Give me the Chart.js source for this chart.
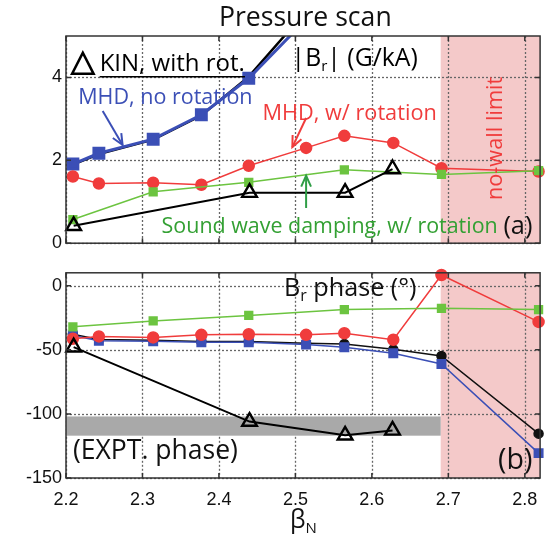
<!DOCTYPE html>
<html><head><meta charset="utf-8">
<script src="https://cdn.jsdelivr.net/npm/chart.js@4.4.1/dist/chart.umd.min.js"></script>
<style>
html,body{margin:0;padding:0;background:#fff;}
#wrap{position:relative;width:551px;height:540px;overflow:hidden;}
canvas{position:absolute;left:0;}
</style></head><body>
<div id="wrap">
<canvas id="c1" width="551" height="258" style="top:0;width:551px;height:258px"></canvas>
<canvas id="c2" width="551" height="282" style="top:258px;width:551px;height:282px"></canvas>
</div>
<script>
// ---------------- DATA ----------------
const xTicks = [2.2, 2.3, 2.4, 2.5, 2.6, 2.7, 2.8];
const ampTicks = [0, 2, 4];
const phaseTicks = [0, -50, -100, -150];

// MHD series (blue, red, black) share the same beta_N points
const betaMHD = [2.209, 2.243, 2.314, 2.377, 2.439, 2.514, 2.564, 2.628, 2.691, 2.818];
const ampMHDnoRot   = [1.91, 2.17, 2.51, 3.10, 3.98, 5.4, 7.0, 9.5, 14, 30];
const phaseMHDnoRot = [-38.9, -42.9, -43.4, -44.2, -44.2, -46.0, -48.0, -52.8, -61.1, -130.6];
const ampMHDrot     = [1.61, 1.44, 1.46, 1.41, 1.87, 2.30, 2.59, 2.42, 1.81, 1.73];
const phaseMHDrot   = [-41.4, -39.6, -40.4, -38.4, -37.9, -38.4, -37.1, -42.2, 8.3, -28.3];
const ampBlack      = [1.90, 2.15, 2.50, 3.08, 4.02, 5.6, 7.5, 10, 15, 30];
const phaseBlack    = [-38.0, -42.0, -42.5, -43.5, -43.5, -45.0, -45.5, -49.7, -54.8, -115.4];

const betaSound  = [2.209, 2.314, 2.439, 2.564, 2.691, 2.818];
const ampSound   = [0.57, 1.24, 1.47, 1.77, 1.66, 1.75];
const phaseSound = [-32.1, -27.5, -23.2, -18.7, -17.7, -18.7];

const betaKIN  = [2.21, 2.44, 2.565, 2.627];
const ampKIN   = [0.42, 1.22, 1.22, 1.79];
const phaseKIN = [-48.0, -106.0, -116.7, -112.9];

const noWallStart = 2.69;
const exptBand = [-117, -102];
const exptBandEnd = 2.69;

// ---------------- STYLE ----------------
const BLUE = '#3b4fb6', RED = '#f03c3c', GREEN = '#6cc440', GREENTXT = '#33a033', BLACK = '#000';
const LBL = "'Open Sans', Lato, sans-serif";
Chart.defaults.font.family = "'Liberation Sans', Arial, sans-serif";
Chart.defaults.color = '#111';

const pts = (xs, ys) => xs.map((b, i) => ({x: b, y: ys[i]}));

function segFont(s, size) { return `${s.sub ? Math.round(size * 0.62) : size}px ${LBL}`; }
function measureSegs(ctx, segs, size) {
  let w = 0;
  for (const s of segs) { ctx.font = segFont(s, size); w += ctx.measureText(s.t).width; }
  return w;
}
function drawSegs(ctx, x, y, segs, size, color) {
  let cx = x;
  ctx.fillStyle = color;
  ctx.textBaseline = 'middle';
  ctx.textAlign = 'left';
  for (const s of segs) {
    ctx.font = segFont(s, size);
    ctx.fillText(s.t, cx, y + (s.sub ? size * 0.32 : 0));
    cx += ctx.measureText(s.t).width;
  }
  return cx - x;
}
function fitSegs(ctx, xL, xR, y, segs, color) {
  const size = 20 * (xR - xL) / measureSegs(ctx, segs, 20);
  drawSegs(ctx, xL, y, segs, size, color);
  return size;
}
function arrow(ctx, x1, y1, x2, y2, color) {
  ctx.strokeStyle = color; ctx.lineWidth = 2;
  ctx.beginPath(); ctx.moveTo(x1, y1); ctx.lineTo(x2, y2); ctx.stroke();
  const a = Math.atan2(y2 - y1, x2 - x1), L = 12, W = 0.42;
  ctx.beginPath();
  ctx.moveTo(x2 - L * Math.cos(a - W), y2 - L * Math.sin(a - W));
  ctx.lineTo(x2, y2);
  ctx.lineTo(x2 - L * Math.cos(a + W), y2 - L * Math.sin(a + W));
  ctx.stroke();
}

function overlay(cfg) {
  return {
    id: 'ov_' + cfg.name,
    beforeDraw(chart) {
      const {ctx, chartArea: a, scales: {x}} = chart;
      ctx.save();
      ctx.fillStyle = '#f4c9c9';
      const px = x.getPixelForValue(noWallStart);
      ctx.fillRect(px, a.top, a.right - px, a.bottom - a.top);
      ctx.restore();
    },
    beforeDatasetsDraw(chart) {
      const {ctx, chartArea: a, scales: {x, y}} = chart;
      ctx.save();
      // dotted grid
      ctx.strokeStyle = '#666'; ctx.lineWidth = 1.3; ctx.setLineDash([2, 2]);
      xTicks.forEach(v => {
        const p = Math.round(x.getPixelForValue(v)) + 0.5;
        ctx.beginPath(); ctx.moveTo(p, a.top); ctx.lineTo(p, a.bottom); ctx.stroke();
      });
      cfg.yTicks.forEach(v => {
        const p = Math.round(y.getPixelForValue(v)) + 0.5;
        ctx.beginPath(); ctx.moveTo(a.left, p); ctx.lineTo(a.right, p); ctx.stroke();
      });
      ctx.setLineDash([]);
      if (cfg.band) {
        ctx.fillStyle = '#a9a9a9';
        const x1 = x.getPixelForValue(2.2), x2 = x.getPixelForValue(exptBandEnd);
        const y1 = y.getPixelForValue(exptBand[1]), y2 = y.getPixelForValue(exptBand[0]);
        ctx.fillRect(x1, y1, x2 - x1, y2 - y1);
      }
      ctx.restore();
    },
    afterDraw(chart) {
      const {ctx, chartArea: a, scales: {x, y}} = chart;
      ctx.save();
      ctx.strokeStyle = '#333'; ctx.lineWidth = 1.5;
      ctx.strokeRect(a.left, a.top, a.right - a.left, a.bottom - a.top);
      ctx.beginPath();
      xTicks.forEach(v => {
        const p = x.getPixelForValue(v);
        ctx.moveTo(p, a.bottom); ctx.lineTo(p, a.bottom - 5);
        ctx.moveTo(p, a.top); ctx.lineTo(p, a.top + 5);
      });
      cfg.yTicks.forEach(v => {
        const p = y.getPixelForValue(v);
        ctx.moveTo(a.left, p); ctx.lineTo(a.left + 5, p);
        ctx.moveTo(a.right, p); ctx.lineTo(a.right - 5, p);
      });
      ctx.stroke();
      const X = v => x.getPixelForValue(v), Y = v => y.getPixelForValue(v);
      cfg.draw(ctx, X, Y, a);
      ctx.restore();
    }
  };
}

function makeChart(id, name, datasets, yMin, yMax, yTicks, showX, pad, band, draw) {
  return new Chart(document.getElementById(id), {
    type: 'line',
    data: {datasets},
    options: {
      responsive: false, animation: false, events: [],
      layout: {padding: pad},
      plugins: {legend: {display: false}, tooltip: {enabled: false}, title: {display: false}},
      elements: {line: {tension: 0}},
      scales: {
        x: {
          type: 'linear', min: 2.2, max: 2.82,
          afterBuildTicks: s => { s.ticks = xTicks.map(v => ({value: v})); },
          ticks: {display: showX, font: {size: 18}, color: '#111', padding: 11, maxRotation: 0, autoSkip: false,
                  callback: v => v.toFixed(1)},
          grid: {display: false, drawTicks: false},
          border: {display: false},
          afterFit: s => { s.height = showX ? 62 : 0; }
        },
        y: {
          type: 'linear', min: yMin, max: yMax,
          afterBuildTicks: s => { s.ticks = yTicks.map(v => ({value: v})); },
          ticks: {font: {size: 18}, color: '#111', padding: 4},
          grid: {display: false, drawTicks: false},
          border: {display: false},
          afterFit: s => { s.width = 66; }
        }
      }
    },
    plugins: [overlay({name, yTicks, band, draw})]
  });
}

const edgeClip = {left: 12, right: 12, top: 12, bottom: 12};
const topClip = {left: 12, right: 12, top: 0, bottom: 12};

// ---------------- TOP PANEL ----------------
const topSets = [
  {data: pts(betaKIN, ampKIN), borderColor: BLACK, borderWidth: 2, pointStyle: 'triangle', pointRadius: 8.5,
   pointBorderWidth: 2.4, pointBackgroundColor: 'rgba(0,0,0,0)', pointBorderColor: BLACK, clip: edgeClip},
  {data: pts(betaSound, ampSound), borderColor: GREEN, borderWidth: 1.5, pointStyle: 'rect', pointRadius: 5.5,
   pointBackgroundColor: GREEN, pointBorderColor: GREEN, clip: edgeClip},
  {data: pts(betaMHD, ampMHDrot), borderColor: RED, borderWidth: 1.5, pointStyle: 'circle', pointRadius: 5.5,
   pointBackgroundColor: RED, pointBorderColor: RED, clip: edgeClip},
  {data: pts(betaMHD, ampMHDnoRot), borderColor: BLUE, borderWidth: 3, pointStyle: 'rect', pointRadius: 7,
   pointBackgroundColor: BLUE, pointBorderColor: BLUE, clip: topClip},
  {data: pts(betaMHD, ampBlack), borderColor: BLACK, borderWidth: 2.5, pointRadius: 3,
   pointBackgroundColor: BLACK, clip: topClip}
];
makeChart('c1', 'top', topSets, 0, 5, ampTicks, false, {left: 0, right: 7, top: 36, bottom: 9}, false,
  (ctx, X, Y, a) => {
    fitSegs(ctx, X(2.400), X(2.626), 18, [{t: 'Pressure scan'}], '#111');
    // KIN legend: hollow triangle + underlined text
    ctx.lineWidth = 2.6; ctx.strokeStyle = '#000';
    const tx = X(2.208), tx2 = X(2.236), ty = Y(4.33);
    ctx.beginPath(); ctx.moveTo(tx, ty + 10); ctx.lineTo((tx + tx2) / 2, ty - 11); ctx.lineTo(tx2, ty + 10); ctx.closePath(); ctx.stroke();
    const xl = X(2.244), xr = X(2.434);
    fitSegs(ctx, xl, xr, ty, [{t: 'KIN, with rot.'}], '#000');
    ctx.lineWidth = 1.3; ctx.beginPath(); ctx.moveTo(xl, ty + 13); ctx.lineTo(xr, ty + 13); ctx.stroke();
    fitSegs(ctx, X(2.495), X(2.660), Y(4.45), [{t: '|B'}, {t: 'r', sub: true}, {t: '| (G/kA)'}], '#000');
    fitSegs(ctx, X(2.216), X(2.444), Y(3.51), [{t: 'MHD, no rotation'}], BLUE);
    fitSegs(ctx, X(2.457), X(2.685), Y(3.12), [{t: 'MHD, w/ rotation'}], RED);
    fitSegs(ctx, X(2.325), X(2.765), Y(0.40), [{t: 'Sound wave damping, w/ rotation'}], GREENTXT);
    fitSegs(ctx, X(2.772), X(2.810), Y(0.40), [{t: '(a)'}], '#111');
    arrow(ctx, X(2.248), Y(3.19), X(2.274), Y(2.37), BLUE);
    arrow(ctx, X(2.514), Y(3.02), X(2.496), Y(2.32), RED);
    arrow(ctx, X(2.514), Y(0.85), X(2.514), Y(1.63), '#2f9e46');
    // no-wall limit (vertical)
    ctx.save();
    const y1 = Y(1.04), y2 = Y(4.02);
    ctx.translate(X(2.762), (y1 + y2) / 2);
    ctx.rotate(-Math.PI / 2);
    ctx.font = `20px ${LBL}`;
    const sz = 20 * (y1 - y2) / ctx.measureText('no-wall limit').width;
    ctx.fillStyle = RED; ctx.font = `${sz}px ${LBL}`; ctx.textAlign = 'center'; ctx.textBaseline = 'middle';
    ctx.fillText('no-wall limit', 0, 0);
    ctx.restore();
  });

// ---------------- BOTTOM PANEL ----------------
const botSets = [
  {data: pts(betaKIN, phaseKIN), borderColor: BLACK, borderWidth: 2, pointStyle: 'triangle', pointRadius: 8.5,
   pointBorderWidth: 2.4, pointBackgroundColor: 'rgba(0,0,0,0)', pointBorderColor: BLACK, clip: edgeClip},
  {data: pts(betaSound, phaseSound), borderColor: GREEN, borderWidth: 1.5, pointStyle: 'rect', pointRadius: 5.5,
   pointBackgroundColor: GREEN, pointBorderColor: GREEN, clip: edgeClip},
  {data: pts(betaMHD, phaseMHDrot), borderColor: RED, borderWidth: 1.5, pointStyle: 'circle', pointRadius: 5.5,
   pointBackgroundColor: RED, pointBorderColor: RED, clip: edgeClip},
  {data: pts(betaMHD, phaseMHDnoRot), borderColor: BLUE, borderWidth: 1.5, pointStyle: 'rect', pointRadius: 6,
   pointBackgroundColor: BLUE, pointBorderColor: BLUE, clip: edgeClip},
  {data: pts(betaMHD, phaseBlack), borderColor: '#111', borderWidth: 1.5, pointStyle: 'circle', pointRadius: 4.5,
   pointBackgroundColor: '#111', pointBorderColor: '#111', clip: edgeClip}
];
makeChart('c2', 'bot', botSets, -150, 10, phaseTicks, true, {left: 0, right: 7, top: 8, bottom: 0}, true,
  (ctx, X, Y, a) => {
    fitSegs(ctx, X(2.485), X(2.658), Y(-2.5), [{t: 'B'}, {t: 'r', sub: true}, {t: ' phase (°)'}], '#111');
    fitSegs(ctx, X(2.209), X(2.425), Y(-129), [{t: '(EXPT. phase)'}], '#111');
    fitSegs(ctx, X(2.765), X(2.810), Y(-137), [{t: '(b)'}], '#111');
    fitSegs(ctx, X(2.493), X(2.528), a.bottom + 43, [{t: 'β'}, {t: 'N', sub: true}], '#111');
  });
</script>
</body></html>
